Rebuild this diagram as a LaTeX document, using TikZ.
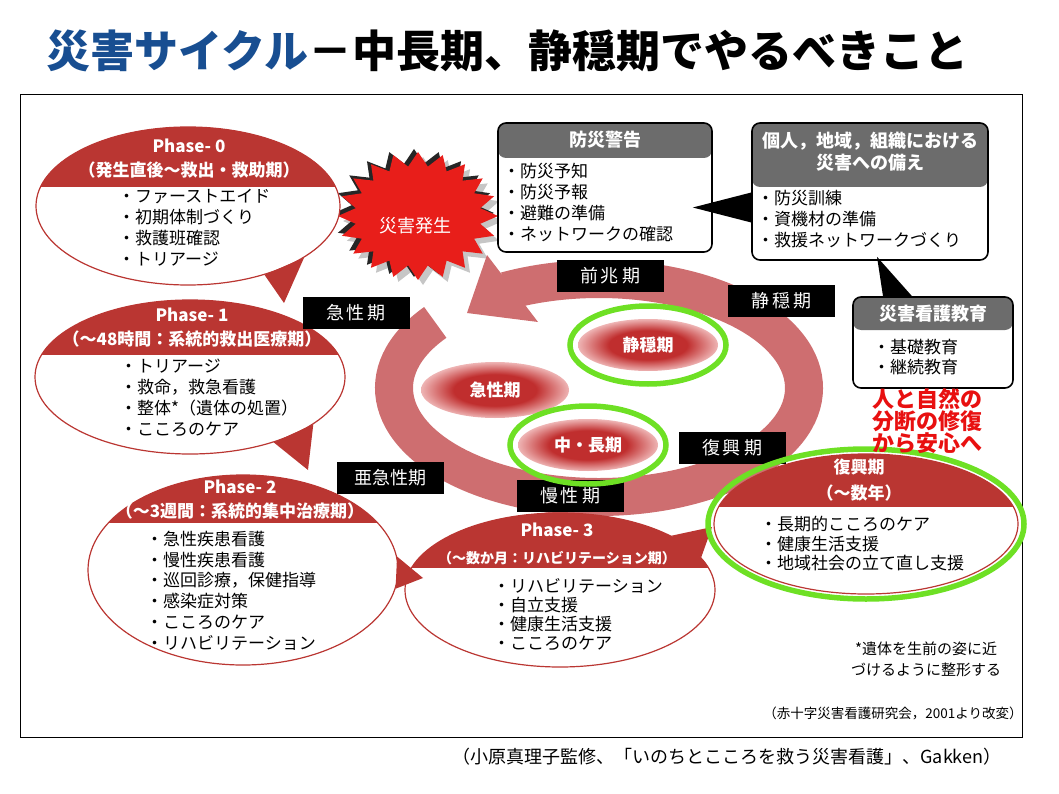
\documentclass[tikz,border=0pt]{standalone}
\usepackage{fontspec}
\setmainfont{Noto Sans CJK JP}
\usetikzlibrary{shapes.geometric}

\definecolor{titleblue}{RGB}{24,78,145}
\definecolor{ringred}{RGB}{206,110,112}
\definecolor{hdrred}{RGB}{186,54,50}
\definecolor{burstred}{RGB}{232,30,26}
\definecolor{glowred}{RGB}{192,46,46}
\definecolor{glowedge}{RGB}{238,180,180}
\definecolor{markgreen}{RGB}{110,224,36}
\definecolor{boxgray}{RGB}{108,108,108}
\definecolor{notered}{RGB}{232,16,16}

\pgfdeclareradialshading{glow}{\pgfpoint{0bp}{0bp}}{color(0bp)=(glowred); color(14bp)=(glowred); color(25bp)=(glowedge); color(50bp)=(glowedge)}

\newcommand{\titlefont}{\fontsize{44}{50}\selectfont\bfseries}
\newcommand{\itemfont}{\fontsize{17}{21}\selectfont}
\newcommand{\headfont}{\fontsize{17}{24}\selectfont\bfseries}
\newcommand{\labelfont}{\fontsize{18}{20}\selectfont}
\newcommand{\glowfont}{\fontsize{17}{19}\selectfont\bfseries}
\newcommand{\notefont}{\fontsize{15}{21}\selectfont}

\tikzset{
  bubble/.style={ellipse, draw=hdrred, line width=1.2pt, fill=white, inner sep=0pt,
    path picture={\fill[hdrred] (path picture bounding box.north west) rectangle ([yshift=-#1]path picture bounding box.north east);}},
  infobox/.style={draw=black, line width=1.6pt, rounded corners=8pt, fill=white, inner sep=0pt,
    path picture={\fill[boxgray] (path picture bounding box.north west) rectangle ([yshift=-#1]path picture bounding box.north east);}},
  bubblehead/.style={text=white, font=\headfont, align=center, inner sep=0pt},
  boxhead/.style={text=white, font=\fontsize{18}{22}\selectfont\bfseries, align=center, inner sep=0pt},
  itemlist/.style={anchor=north west, align=left, font=\itemfont, inner sep=0pt},
  phaselabel/.style={fill=black, text=white, font=\labelfont, minimum width=107pt, minimum height=32pt, inner sep=0pt},
  glowblob/.style={ellipse, shade, shading=glow, text=white, font=\glowfont, inner sep=0pt},
  greenmark/.style={draw=markgreen, line width=5.5pt}
}

\begin{document}
\begin{tikzpicture}[x=1pt, y=1pt]
        \useasboundingbox (0,0) rectangle (1059,-794);

        % frame of the figure
        \draw[line width=1pt] (20,-95) rectangle (1022,-737);

        % disaster burst
        \foreach \dx/\dy/\col in {5/-5/gray!45, -4/3/black!85, 0/0/burstred} {
            \fill[\col, shift={(418+\dx,-216+\dy)}] (0:80 and 64)
                \foreach \i in {1,...,19} { -- (\i*18-9:63 and 50) -- (\i*18:80 and 64) }
                -- (351:63 and 50) -- cycle;
        }
        \node[text=white, font=\fontsize{18}{20}\selectfont, inner sep=0pt] (burst) at (415,-226) {災害発生};

        % cycle ring with its head
        \coordinate (ringc) at (599,-388);
        \draw[ringred, line width=38pt]
            ([shift={(143:205 and 109)}]ringc) arc [start angle=143, end angle=477, x radius=205, y radius=109];
        \fill[ringred] (487,-255) -- (538,-322) -- (467,-313) -- cycle;

        % phase bubbles
        \node[bubble=60pt, minimum width=304pt, minimum height=158pt] (bub0) at (188,-206) {};
        \node[bubble=55pt, minimum width=310pt, minimum height=154pt] (bub1) at (190,-377) {};
        \node[bubble=48pt, minimum width=310pt, minimum height=190pt] (bub2) at (243,-570) {};
        \node[bubble=55pt, minimum width=310pt, minimum height=154pt] (bub3) at (560,-590) {};
        \node[bubble=53pt, minimum width=304pt, minimum height=140pt] (bub4) at (866,-524) {};

        % bubble tails
        \coordinate (tip0) at (284,-303);
        \coordinate (tip1) at (308,-470);
        \coordinate (tip2) at (423,-578);
        \coordinate (tip3) at (712,-527);
        \fill[hdrred] (bub0.-24) -- (tip0) -- (bub0.-42) -- cycle;
        \fill[hdrred] (bub1.-21) -- (tip1) -- (bub1.-38) -- cycle;
        \fill[hdrred] (bub2.5) -- (tip2) -- (bub2.-7) -- cycle;
        \fill[hdrred] (bub3.13) -- (tip3) -- (bub3.26) -- cycle;

        % bubble texts
        \node[bubblehead] (head0) at (189,-159) {Phase- 0\\（発生直後〜救出・救助期）};
        \node[bubblehead] (head1) at (192,-328) {Phase- 1\\（〜48時間：系統的救出医療期）};
        \node[bubblehead] (head2) at (240,-500) {Phase- 2\\（〜3週間：系統的集中治療期）};
        \node[bubblehead] (head3) at (557,-544) {Phase- 3\\[3pt]{\fontsize{14}{24}\selectfont（〜数か月：リハビリテーション期）}};
        \node[bubblehead] (head4) at (859,-480) {復興期\\[2pt]（〜数年）};
        \node[itemlist] (list0) at (118,-189) {・ファーストエイド\\・初期体制づくり\\・救護班確認\\・トリアージ};
        \node[itemlist] (list1) at (120,-359) {・トリアージ\\・救命，救急看護\\・整体*（遺体の処置）\\・こころのケア};
        \node[itemlist, font=\fontsize{17}{20.7}\selectfont] (list2) at (146,-531)
            {・急性疾患看護\\・慢性疾患看護\\・巡回診療，保健指導\\・感染症対策\\・こころのケア\\・リハビリテーション};
        \node[itemlist, font=\fontsize{17}{19}\selectfont] (list3) at (493,-578)
            {・リハビリテーション\\・自立支援\\・健康生活支援\\・こころのケア};
        \node[itemlist, font=\fontsize{17}{19.5}\selectfont] (list4) at (760,-516)
            {・長期的こころのケア\\・健康生活支援\\・地域社会の立て直し支援};

        % labels on the ring
        \node[phaselabel] (lbpre) at (610,-276) {前\,兆\,期};
        \node[phaselabel] (lbcalm) at (781,-301) {静\,穏\,期};
        \node[phaselabel] (lbacute) at (356,-313) {急\,性\,期};
        \node[phaselabel] (lbsub) at (390,-478) {亜急性期};
        \node[phaselabel] (lbchron) at (570,-496) {慢\,性\,期};
        \node[phaselabel] (lbrecov) at (732,-448) {復\,興\,期};

        % glowing phases inside the ring
        \node[glowblob, minimum width=148pt, minimum height=56pt] (glowacute) at (495,-390) {急性期};
        \node[glowblob, minimum width=140pt, minimum height=52pt] (glowcalm) at (648,-345) {静穏期};
        \node[glowblob, minimum width=140pt, minimum height=52pt] (glowlong) at (588,-445) {中・長期};

        % green marks
        \draw[greenmark] (glowcalm.center) ellipse [x radius=78, y radius=39];
        \draw[greenmark] (glowlong.center) ellipse [x radius=78, y radius=39];
        \draw[greenmark] (bub4.center) ellipse [x radius=158, y radius=75];

        % preparedness boxes
        \node[infobox=35pt, minimum width=214pt, minimum height=129pt] (warnbox) at (605,-187.5) {};
        \node[infobox=64pt, minimum width=236pt, minimum height=137pt] (prepbox) at (870,-191.5) {};
        \node[infobox=33pt, minimum width=160pt, minimum height=91pt] (edubox) at (933,-342.5) {};
        \node[boxhead] (warnhead) at (605,-140) {防災警告};
        \node[boxhead] (prephead) at (870,-152) {個人，地域，組織における\\災害への備え};
        \node[boxhead] (eduhead) at (933,-314) {災害看護教育};
        \node[itemlist] (warnlist) at (503,-163) {・防災予知\\・防災予報\\・避難の準備\\・ネットワークの確認};
        \node[itemlist] (preplist) at (757,-190) {・防災訓練\\・資機材の準備\\・救援ネットワークづくり};
        \node[itemlist, font=\fontsize{17}{20}\selectfont] (edulist) at (873,-339) {・基礎教育\\・継続教育};

        % pointers between boxes
        \fill ([yshift=-1pt]prepbox.west) -- ([xshift=-20pt,yshift=-20pt]warnbox.east) -- ([yshift=-31pt]prepbox.west) -- cycle;
        \fill ([xshift=7pt,yshift=4pt]prepbox.south) -- ([xshift=-50pt]edubox.north) -- ([xshift=-21pt]edubox.north) -- cycle;

        % red message
        \node[font=\fontsize{22}{20.5}\selectfont\bfseries, text=notered, align=center, inner sep=0pt] (slogan) at (927,-421)
            {人と自然の\\分断の修復\\から安心へ};

        % notes
        \node[font=\notefont, align=center, inner sep=0pt] (asterisknote) at (926,-659) {*遺体を生前の姿に近\\づけるように整形する};
        \node[font=\fontsize{13.5}{18}\selectfont, inner sep=0pt] (source) at (893,-713) {（赤十字災害看護研究会，2001より改変）};

        % title and caption
        \node[anchor=west, inner sep=0pt, font=\titlefont] (title) at (46,-51)
            {\textcolor{titleblue}{災害サイクル}－中長期、静穏期でやるべきこと};
        \node[font=\fontsize{18}{20}\selectfont, inner sep=0pt] (caption) at (727,-757)
            {（小原真理子監修、「いのちとこころを救う災害看護」、Gakken）};
    \end{tikzpicture}
\end{document}
